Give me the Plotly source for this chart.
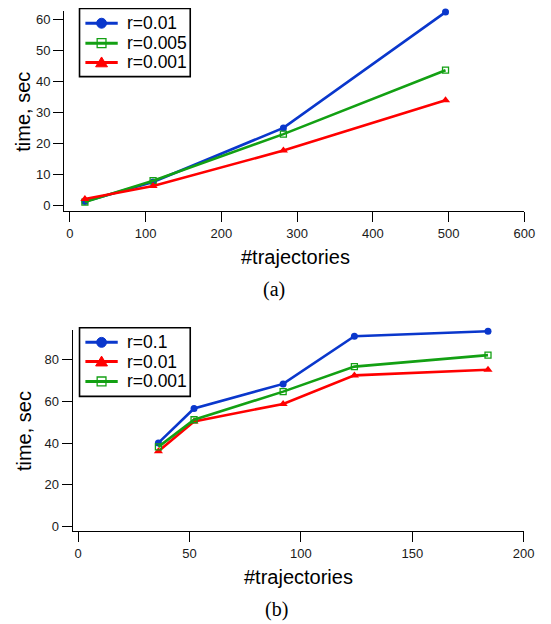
import plotly.graph_objects as go

# page body has an 8px margin; the figure is sized to fit the 551x624 window
OFF = 8
W, H = 551 - OFF, 624 - OFF

# ---- data (a) ----
traj_a = [20, 110, 282, 496]
time_a_r01 = [1.3, 7.6, 25.0, 62.3]
time_a_r005 = [1.1, 8.0, 23.0, 43.6]
time_a_r001 = [2.1, 6.3, 17.7, 33.9]
labels_a = ["r=0.01", "r=0.005", "r=0.001"]

# ---- data (b) ----
traj_b = [36, 52, 92, 124, 184]
time_b_r1 = [40.1, 56.6, 68.4, 91.3, 93.7]
time_b_r01 = [36.1, 50.4, 58.8, 72.5, 75.2]
time_b_r001 = [38.2, 51.2, 64.7, 76.7, 82.2]
labels_b = ["r=0.1", "r=0.01", "r=0.001"]

BLUE = "#0a37cc"
GREEN = "#13a013"
RED = "#ff0000"

STY = {
    "blue": dict(color=BLUE, symbol="circle", size=7),
    "green": dict(color=GREEN, symbol="square-open", size=6),
    "red": dict(color=RED, symbol="triangle-up", size=8),
}


def px_x(p):
    return (p - OFF) / W


def px_y(p):
    return 1 - (p - OFF) / H


fig = go.Figure()


def add_series(x, y, name, sty, xa, ya):
    s = STY[sty]
    mk = dict(symbol=s["symbol"], size=s["size"], color=s["color"])
    if s["symbol"] == "square-open":
        mk["line"] = dict(width=1.3, color=s["color"])
    fig.add_trace(go.Scatter(x=x, y=y, name=name, mode="lines+markers",
                             line=dict(color=s["color"], width=2.6),
                             marker=mk, xaxis=xa, yaxis=ya, showlegend=False,
                             cliponaxis=False))


add_series(traj_a, time_a_r01, labels_a[0], "blue", "x", "y")
add_series(traj_a, time_a_r005, labels_a[1], "green", "x", "y")
add_series(traj_a, time_a_r001, labels_a[2], "red", "x", "y")

add_series(traj_b, time_b_r1, labels_b[0], "blue", "x2", "y2")
add_series(traj_b, time_b_r01, labels_b[1], "red", "x2", "y2")
add_series(traj_b, time_b_r001, labels_b[2], "green", "x2", "y2")

tickfont = dict(family="Liberation Sans, Arial", size=13, color="#1a1a1a")
axis_common = dict(showline=True, linecolor="black", linewidth=1.3, ticks="outside",
                   ticklen=10, tickwidth=1.3, tickcolor="black", showgrid=False,
                   zeroline=False, tickfont=tickfont, mirror=False)

fig.update_layout(
    width=W, height=H,
    margin=dict(l=0, r=0, t=0, b=0),
    paper_bgcolor="white", plot_bgcolor="white",
    xaxis=dict(domain=[px_x(65.3), px_x(535)], range=[-7.4, 600], dtick=100,
               anchor="y", **axis_common),
    yaxis=dict(domain=[px_y(212.3), px_y(11.2)], range=[-1.86, 62.6], dtick=10,
               anchor="x", **axis_common),
    xaxis2=dict(domain=[px_x(74), px_x(534.3)], range=[-2.5, 200], dtick=50,
                anchor="y2", **axis_common),
    yaxis2=dict(domain=[px_y(533.7), px_y(331.1)], range=[-2.24, 94.5], dtick=20,
                anchor="x2", **axis_common),
    showlegend=False,
)

title_font = dict(family="Liberation Sans, Arial", size=20, color="black")
cap_font = dict(family="Liberation Serif, Times New Roman", size=20, color="black")
leg_font = dict(family="Liberation Sans, Arial", size=17.5, color="black")

annos = [
    dict(text="#trajectories", x=px_x(301), y=px_y(258), font=title_font),
    dict(text="#trajectories", x=px_x(304), y=px_y(580), font=title_font),
    dict(text="time, sec", x=px_x(23), y=px_y(112.5), font=title_font, textangle=-90),
    dict(text="time, sec", x=px_x(25), y=px_y(433.5), font=title_font, textangle=-90),
    dict(text="(a)", x=px_x(280), y=px_y(291), font=cap_font),
    dict(text="(b)", x=px_x(282), y=px_y(612), font=cap_font),
]
for a in annos:
    fig.add_annotation(xref="paper", yref="paper", showarrow=False,
                       xanchor="center", yanchor="middle", **a)


# ---- legends (drawn as legend boxes with sample glyphs) ----
def draw_legend(box, rows, labels, styles):
    x0, y0, x1, y1 = box
    fig.add_shape(type="rect", xref="paper", yref="paper",
                  x0=px_x(x0), x1=px_x(x1), y0=px_y(y1), y1=px_y(y0),
                  line=dict(color="black", width=1.6), fillcolor="white", layer="above")
    for ry, lab, sty in zip(rows, labels, styles):
        c = STY[sty]["color"]
        fig.add_shape(type="line", xref="paper", yref="paper",
                      x0=px_x(87), x1=px_x(120), y0=px_y(ry), y1=px_y(ry),
                      line=dict(color=c, width=3), layer="above")
        cx = 103.5
        if sty == "blue":
            r = 5
            fig.add_shape(type="circle", xref="paper", yref="paper",
                          x0=px_x(cx - r), x1=px_x(cx + r), y0=px_y(ry + r), y1=px_y(ry - r),
                          line=dict(color=c, width=1), fillcolor=c, layer="above")
        elif sty == "green":
            r = 4.5
            fig.add_shape(type="rect", xref="paper", yref="paper",
                          x0=px_x(cx - r), x1=px_x(cx + r), y0=px_y(ry + r), y1=px_y(ry - r),
                          line=dict(color=c, width=1.3), fillcolor="rgba(0,0,0,0)", layer="above")
        else:
            r = 5.5
            path = "M{},{} L{},{} L{},{} Z".format(
                px_x(cx), px_y(ry - r), px_x(cx + r * 1.1), px_y(ry + r * 0.8),
                px_x(cx - r * 1.1), px_y(ry + r * 0.8))
            fig.add_shape(type="path", xref="paper", yref="paper", path=path,
                          line=dict(color=c, width=1), fillcolor=c, layer="above")
        fig.add_annotation(xref="paper", yref="paper", showarrow=False,
                           x=px_x(127), y=px_y(ry), xanchor="left", yanchor="middle",
                           text=lab, font=leg_font)


draw_legend((81, 8.5, 194, 77), [23.3, 43.3, 62.7], labels_a, ["blue", "green", "red"])
draw_legend((81, 329.3, 194, 398.3), [344, 363.3, 383.3], labels_b, ["blue", "red", "green"])

fig.write_html("out.html")
